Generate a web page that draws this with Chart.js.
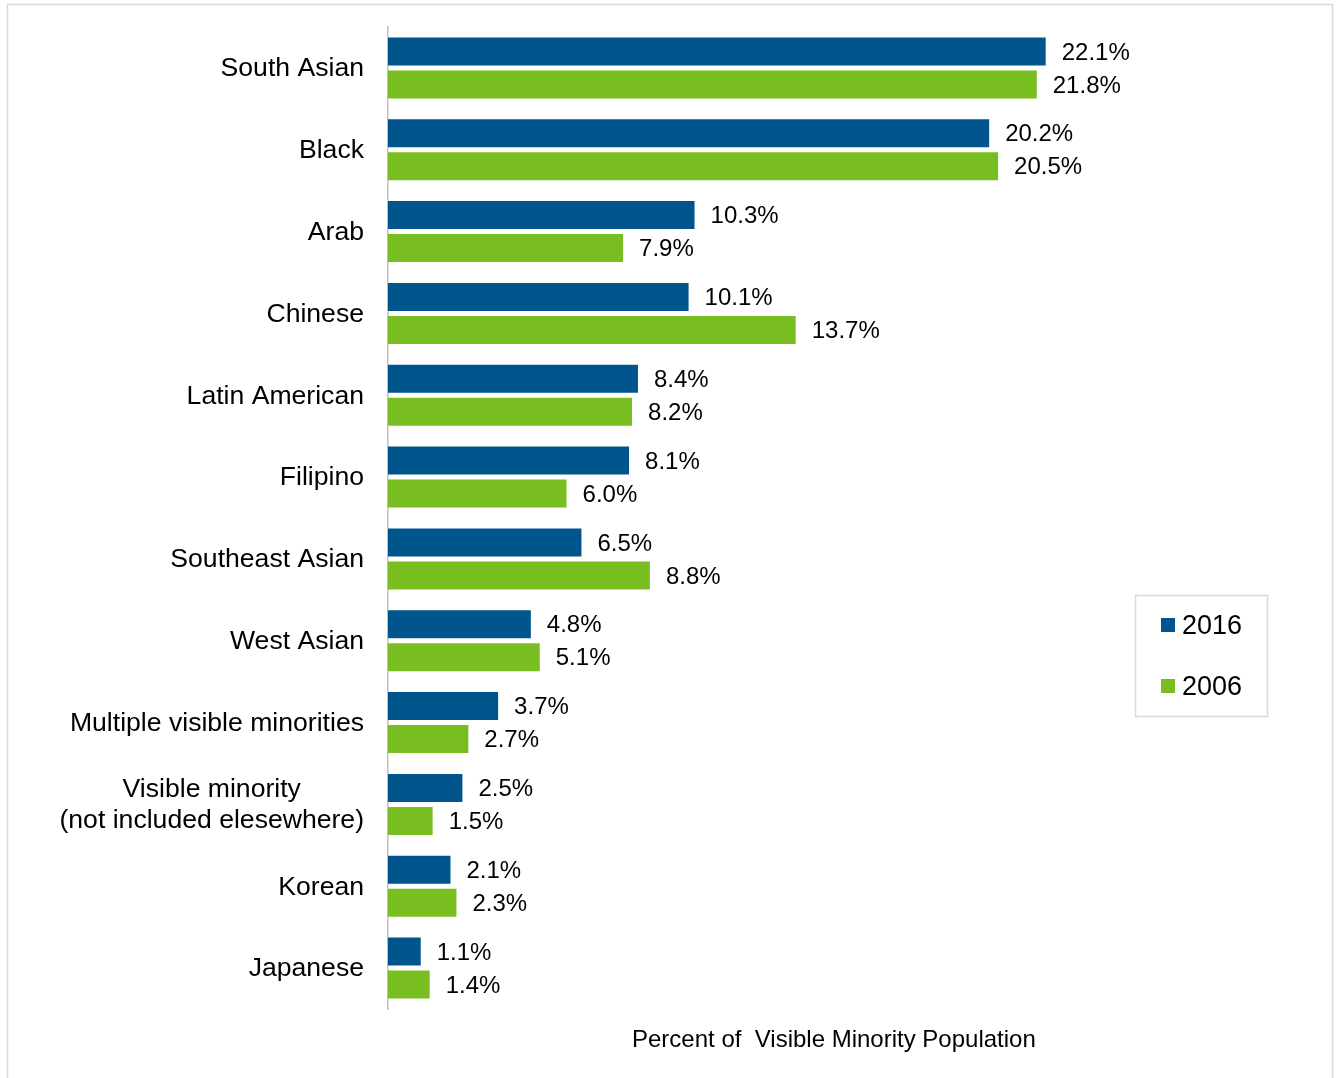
<!DOCTYPE html>
<html>
<head>
<meta charset="utf-8">
<script src="https://cdn.jsdelivr.net/npm/chart.js@4/dist/chart.umd.min.js"></script>
<style>
  html, body { margin: 0; padding: 0; background: #ffffff; }
  #wrap { position: relative; width: 1336px; height: 1078px; }
</style>
</head>
<body>
<div id="wrap"><canvas id="c" width="1336" height="1078"></canvas></div>
<script>
const categories = [
  'South Asian', 'Black', 'Arab', 'Chinese', 'Latin American', 'Filipino',
  'Southeast Asian', 'West Asian', 'Multiple visible minorities',
  ['Visible minority', '(not included elesewhere)'], 'Korean', 'Japanese'
];
const seriesNames = ['2016', '2006'];
const values2016 = [22.1, 20.2, 10.3, 10.1, 8.4, 8.1, 6.5, 4.8, 3.7, 2.5, 2.1, 1.1];
const values2006 = [21.8, 20.5, 7.9, 13.7, 8.2, 6.0, 8.8, 5.1, 2.7, 1.5, 2.3, 1.4];
const axisTitle = 'Percent of  Visible Minority Population';

const BLUE = '#00558C';
const GREEN = '#78BE20';

const decor = {
  id: 'decor',
  afterDatasetsDraw(chart) {
    const ctx = chart.ctx;
    const area = chart.chartArea;
    const yScale = chart.scales.y;
    ctx.save();
    // value labels
    ctx.font = '24px "Liberation Sans", Arial, sans-serif';
    ctx.fillStyle = '#000';
    ctx.textAlign = 'left';
    ctx.textBaseline = 'middle';
    chart.data.datasets.forEach((ds, di) => {
      const meta = chart.getDatasetMeta(di);
      meta.data.forEach((bar, i) => {
        ctx.fillText(ds.data[i].toFixed(1) + '%', bar.x + 16, bar.y + 1.5);
      });
    });
    // category labels
    ctx.font = '26.6px "Liberation Sans", Arial, sans-serif';
    ctx.fillStyle = '#000';
    const labelRight = area.left - 24;
    categories.forEach((lab, i) => {
      const y = yScale.getPixelForTick(i) + 1;
      if (Array.isArray(lab)) {
        const widths = lab.map(l => ctx.measureText(l).width);
        const maxW = Math.max(...widths);
        const cx = labelRight - maxW / 2;
        ctx.textAlign = 'center';
        const lh = 31;
        lab.forEach((l, k) => {
          ctx.fillText(l, cx, y + (k - (lab.length - 1) / 2) * lh);
        });
      } else {
        ctx.textAlign = 'right';
        ctx.fillText(lab, labelRight, y);
      }
    });
    // axis title
    ctx.font = '24px "Liberation Sans Narrow", "Arial Narrow", "Liberation Sans", sans-serif';
    ctx.textAlign = 'left';
    ctx.fillText(axisTitle, 632, 1040);
    // legend box
    ctx.strokeStyle = '#d9d9d9';
    ctx.lineWidth = 1.5;
    ctx.strokeRect(1135.5, 595.5, 132, 121);
    ctx.font = '27px "Liberation Sans", Arial, sans-serif';
    ctx.textAlign = 'left';
    const rows = [625, 686];
    chart.data.datasets.forEach((ds, di) => {
      ctx.fillStyle = ds.backgroundColor;
      ctx.fillRect(1161, rows[di] - 7, 14, 14);
      ctx.fillStyle = '#000';
      ctx.fillText(ds.label, 1182, rows[di] + 2);
    });
    // outer frame
    ctx.strokeStyle = '#d9d9d9';
    ctx.lineWidth = 1.5;
    ctx.beginPath();
    ctx.moveTo(7.5, 1078);
    ctx.lineTo(7.5, 4.5);
    ctx.lineTo(1332.5, 4.5);
    ctx.lineTo(1332.5, 1078);
    ctx.stroke();
    ctx.restore();
  }
};

new Chart(document.getElementById('c'), {
  type: 'bar',
  data: {
    labels: categories,
    datasets: [
      { label: seriesNames[0], data: values2016, backgroundColor: BLUE },
      { label: seriesNames[1], data: values2006, backgroundColor: GREEN }
    ]
  },
  options: {
    indexAxis: 'y',
    responsive: false,
    animation: false,
    devicePixelRatio: 1,
    categoryPercentage: 0.807,
    barPercentage: 0.848,
    layout: { padding: { left: 388, right: 204, top: 27, bottom: 69 } },
    plugins: {
      legend: { display: false },
      tooltip: { enabled: false },
      title: { display: false }
    },
    scales: {
      x: {
        min: 0, max: 25,
        display: false,
        grid: { display: false }
      },
      y: {
        display: true,
        ticks: { display: false },
        grid: { display: false, drawTicks: false },
        border: { display: true, color: '#bfbfbf', width: 1.5 },
        afterFit(scale) { scale.width = 0; }
      }
    }
  },
  plugins: [decor]
});
</script>
</body>
</html>
